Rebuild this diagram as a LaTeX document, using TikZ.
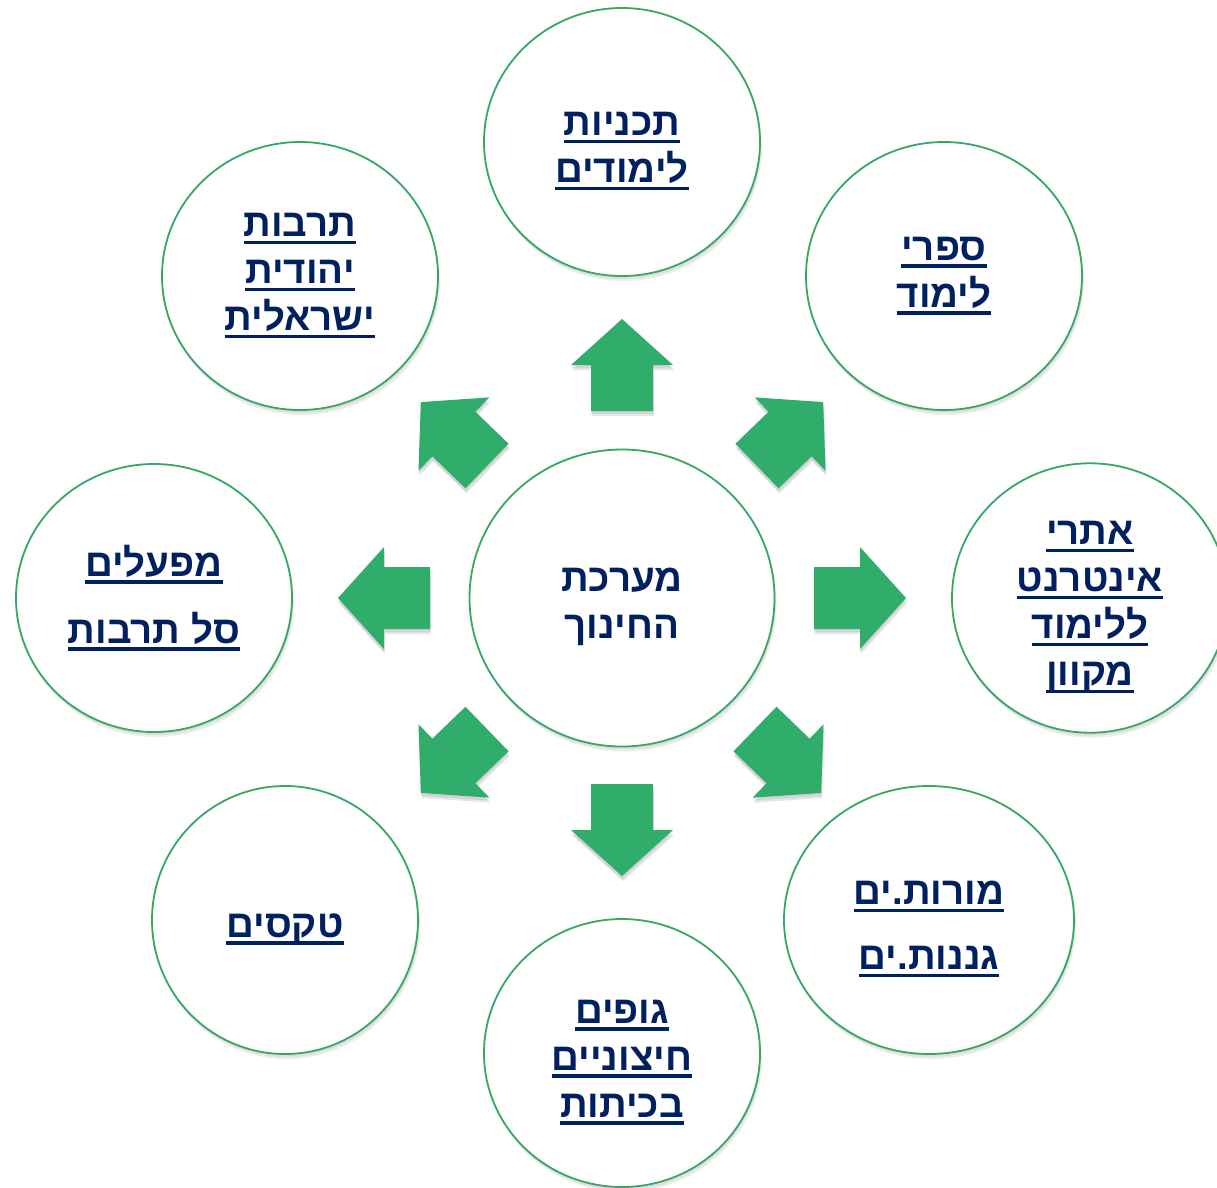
\documentclass[tikz,border=0pt]{standalone}
\usepackage{fontspec}
\newfontfamily\hefont[Script=Hebrew]{Liberation Sans}
\TeXXeTstate=1
\usetikzlibrary{shapes.geometric,calc}
\definecolor{navy}{HTML}{002060}
\definecolor{agreen}{HTML}{31AD6B}
\definecolor{cgreen}{HTML}{34A864}
\newcommand\ulw[1]{\setbox0=\hbox{\beginR #1\endR}\leavevmode\rlap{\vrule width \wd0 height -4pt depth 7.5pt}\box0}
\newcommand\rtlw[1]{\leavevmode\hbox{\beginR #1\endR}}
\newcommand\lowr{\rule{0pt}{42pt}}
\newcommand\blockarrow[4]{%
  \coordinate (#1) at (#2,#3);
  \fill[black, fill opacity=0.10, shift={($(#1)+(1,-5)$)}, rotate=#4]
    (0,-31) -- (46,-31) -- (46,-51) -- (92,0) -- (46,51) -- (46,31) -- (0,31) -- cycle;
  \fill[black, fill opacity=0.08, shift={($(#1)+(0,-3)$)}, rotate=#4]
    (0,-31) -- (46,-31) -- (46,-51) -- (92,0) -- (46,51) -- (46,31) -- (0,31) -- cycle;
  \fill[agreen, shift={(#1)}, rotate=#4]
    (0,-31) -- (46,-31) -- (46,-51) -- (92,0) -- (46,51) -- (46,31) -- (0,31) -- cycle;
}
\begin{document}
\begin{tikzpicture}[x=1pt,y=1pt,
  bub/.style={ellipse, draw=cgreen, line width=1.8pt, fill=white, inner sep=0pt,
    minimum width=276pt, minimum height=268pt,
    font=\hefont\bfseries\fontsize{38.5}{47}\selectfont, text=navy, align=center,
    preaction={fill=black, fill opacity=0.07, draw=none, transform canvas={xshift=2pt,yshift=-5pt}},
    preaction={fill=black, fill opacity=0.06, draw=none, transform canvas={xshift=1pt,yshift=-3pt}}}]
\fill[white] (0,0) rectangle (1217,-1187);
\useasboundingbox (0,0) rectangle (1217,-1187);

% arrows
\blockarrow{aup}{622}{-411}{90}
\blockarrow{adown}{622}{-784}{-90}
\blockarrow{aright}{814}{-598}{0}
\blockarrow{aleft}{430}{-598}{180}
\blockarrow{atr}{757}{-466}{44}
\blockarrow{atl}{487}{-466}{136}
\blockarrow{abl}{487}{-729}{224}
\blockarrow{abr}{755}{-729}{-44}

% circles
\node[bub, minimum width=305pt, minimum height=297pt] (center) at (622,-598) {\lowr\rtlw{מערכת}\\\rtlw{החינוך}};
\node[bub] (top) at (622,-142) {\lowr\ulw{תכניות}\\\ulw{לימודים}};
\node[bub] (tr) at (944,-276) {\ulw{ספרי}\\\ulw{לימוד}};
\node[bub] (right) at (1090,-598) {\lowr\ulw{אתרי}\\\ulw{אינטרנט}\\\ulw{ללימוד}\\\ulw{מקוון}};
\node[bub, minimum width=290pt] (br) at (929,-920) {\lowr\ulw{מורות.ים}\\[18pt]\ulw{גננות.ים}};
\node[bub] (bottom) at (622,-1053) {\lowr\ulw{גופים}\\\ulw{חיצוניים}\\\ulw{בכיתות}};
\node[bub, minimum width=266pt] (bl) at (285,-920) {\lowr\ulw{טקסים}};
\node[bub] (left) at (154,-598) {\ulw{מפעלים}\\[20pt]\ulw{סל תרבות}};
\node[bub] (tl) at (300,-276) {\ulw{תרבות}\\\ulw{יהודית}\\\ulw{ישראלית}};
\end{tikzpicture}
\end{document}
